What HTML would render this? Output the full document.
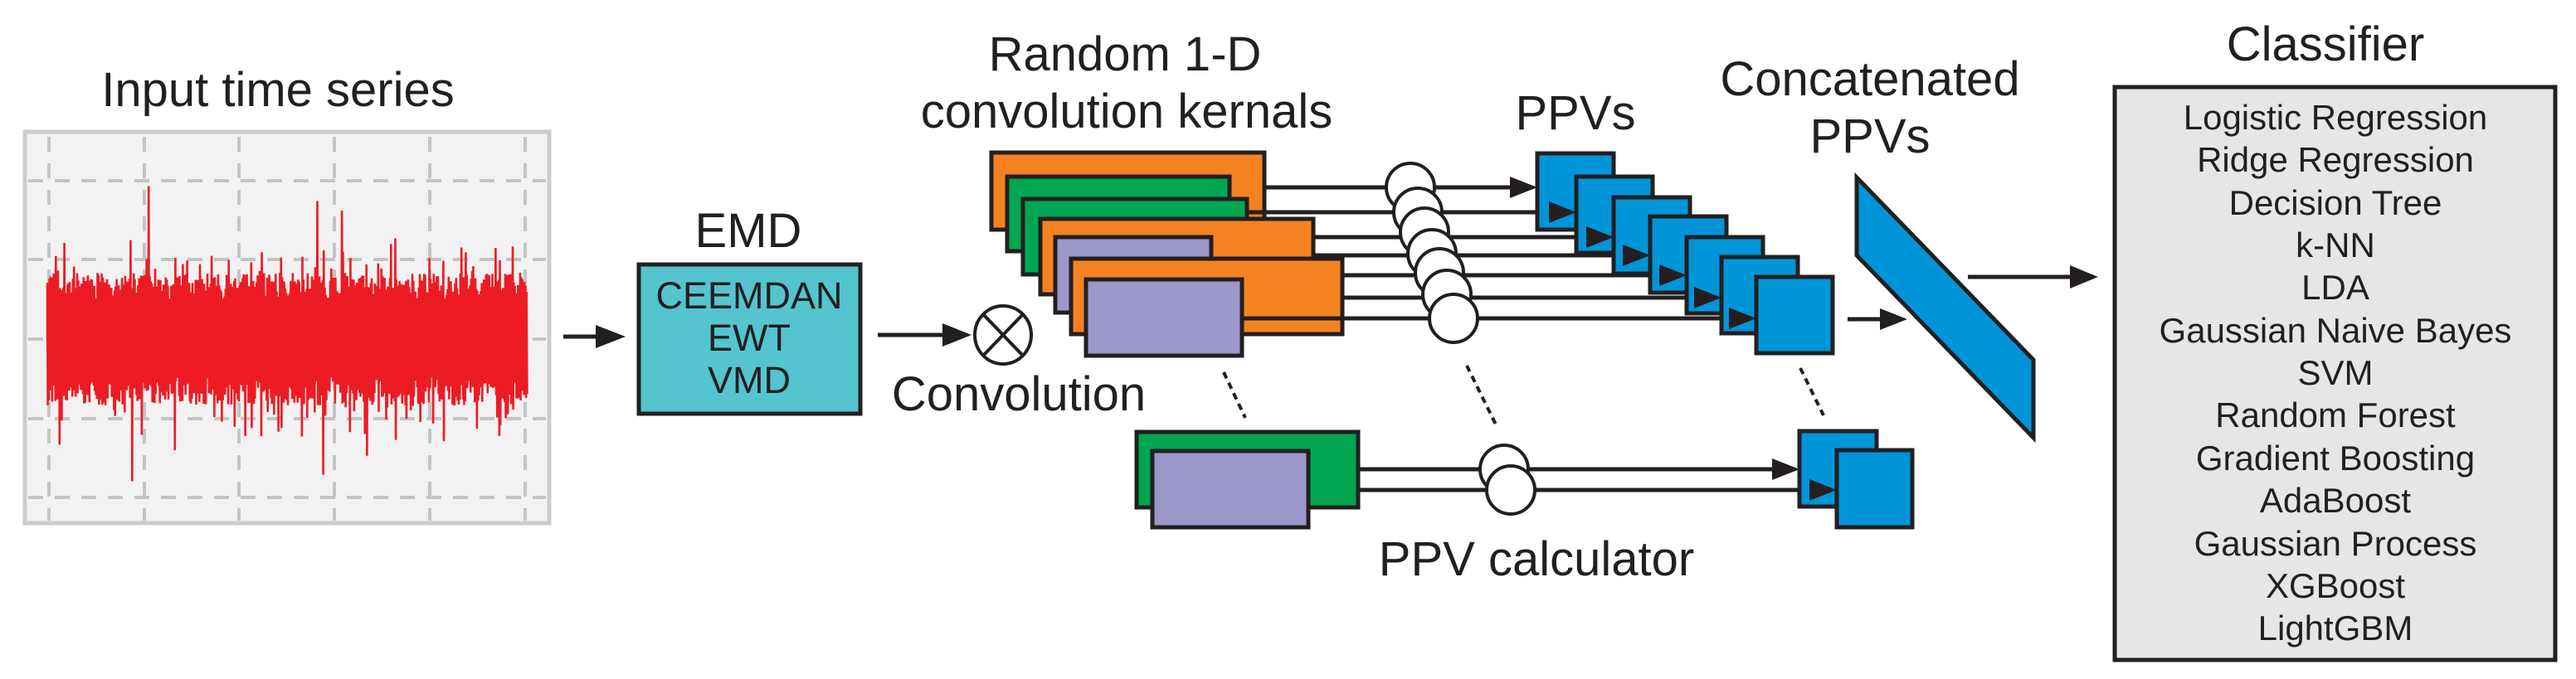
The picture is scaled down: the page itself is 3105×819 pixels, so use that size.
<!DOCTYPE html>
<html><head><meta charset="utf-8"><style>
html,body{margin:0;padding:0;background:#fff;}
svg{display:block;}
text{font-family:"Liberation Sans",Arial,sans-serif;fill:#231f20;}
</style></head><body>
<svg id="s" width="3105" height="819" viewBox="0 0 3105 819" xmlns="http://www.w3.org/2000/svg">
<!-- Input time series -->
<text x="335" y="128" font-size="58" text-anchor="middle">Input time series</text>
<rect x="30" y="159" width="632" height="472" fill="#f2f2f2" stroke="#cccccc" stroke-width="5"/>
<g stroke="#c4c4c4" stroke-width="4" stroke-dasharray="18,14">
<line x1="59" y1="165" x2="59" y2="628"/><line x1="174" y1="165" x2="174" y2="628"/>
<line x1="288" y1="165" x2="288" y2="628"/><line x1="403" y1="165" x2="403" y2="628"/>
<line x1="518" y1="165" x2="518" y2="628"/><line x1="633" y1="165" x2="633" y2="628"/>
<line x1="34" y1="218" x2="658" y2="218"/><line x1="34" y1="313" x2="658" y2="313"/>
<line x1="34" y1="409" x2="658" y2="409"/><line x1="34" y1="505" x2="658" y2="505"/>
<line x1="34" y1="600" x2="658" y2="600"/>
</g>
<path id="sig" fill="none" stroke="#ed1c24" stroke-width="2.6" d=""/>
<line x1="679" y1="406" x2="735" y2="406" stroke="#231f20" stroke-width="5"/>
<polygon points="754,406 718,392 718,420" fill="#231f20"/>
<text x="902" y="298" font-size="58" text-anchor="middle">EMD</text>
<rect x="770" y="319" width="267" height="180" fill="#54c4cf" stroke="#231f20" stroke-width="5"/>
<text x="903" y="372" font-size="45" text-anchor="middle">CEEMDAN</text>
<text x="903" y="423" font-size="45" text-anchor="middle">EWT</text>
<text x="903" y="474" font-size="45" text-anchor="middle">VMD</text>
<line x1="1058" y1="404" x2="1150" y2="404" stroke="#231f20" stroke-width="5"/>
<polygon points="1171,404 1136,390 1136,418" fill="#231f20"/>
<ellipse cx="1209" cy="404" rx="34" ry="35" fill="#fff" stroke="#231f20" stroke-width="4"/>
<line x1="1185" y1="379" x2="1233" y2="429" stroke="#231f20" stroke-width="4"/>
<line x1="1233" y1="379" x2="1185" y2="429" stroke="#231f20" stroke-width="4"/>
<text x="1228" y="495" font-size="58" text-anchor="middle">Convolution</text>
<text x="1356" y="85" font-size="58" text-anchor="middle">Random 1-D</text>
<text x="1358" y="154" font-size="58" text-anchor="middle">convolution kernals</text>
<g stroke="#231f20" stroke-width="5">
<rect x="1195" y="184" width="329" height="93" fill="#f58220"/>
<rect x="1214" y="213" width="268" height="90" fill="#00a651"/>
<rect x="1233" y="240" width="270" height="91" fill="#00a651"/>
<rect x="1254" y="264" width="329" height="91" fill="#f58220"/>
<rect x="1272" y="286" width="188" height="91" fill="#9b97c8"/>
<rect x="1291" y="312" width="327" height="91" fill="#f58220"/>
<rect x="1309" y="337" width="188" height="92" fill="#9b97c8"/>
</g>
<g id="lines" stroke="#231f20" stroke-width="5" fill="none"></g>
<g id="circs" fill="#fff" stroke="#231f20" stroke-width="4"></g>
<text x="1899" y="156" font-size="58" text-anchor="middle">PPVs</text>
<g id="sq" fill="#0095d9" stroke="#231f20" stroke-width="5"></g>
<g id="arr" fill="#231f20"></g>
<g stroke="#231f20" stroke-width="4" stroke-dasharray="8,6">
<line x1="1475" y1="449" x2="1501" y2="504"/>
<line x1="1768" y1="441" x2="1803" y2="512"/>
<line x1="2170" y1="444" x2="2198" y2="501"/>
</g>
<g stroke="#231f20" stroke-width="5">
<rect x="1370" y="521" width="267" height="91" fill="#00a651"/>
<rect x="1389" y="544" width="188" height="92" fill="#9b97c8"/>
</g>
<text x="1852" y="694" font-size="58" text-anchor="middle">PPV calculator</text>
<text x="2254" y="115" font-size="58" text-anchor="middle">Concatenated</text>
<text x="2254" y="184" font-size="58" text-anchor="middle">PPVs</text>
<line x1="2227" y1="385" x2="2282" y2="385" stroke="#231f20" stroke-width="5"/>
<polygon points="2299,385 2266,372 2266,398" fill="#231f20"/>
<polygon points="2238,214 2238,308 2451,528 2451,434" fill="#0095d9" stroke="#231f20" stroke-width="5"/>
<line x1="2372" y1="334" x2="2510" y2="334" stroke="#231f20" stroke-width="5"/>
<polygon points="2529,334 2495,320 2495,348" fill="#231f20"/>
<text x="2803" y="73" font-size="58" text-anchor="middle">Classifier</text>
<rect x="2549" y="105" width="531" height="691" fill="#e6e6e6" stroke="#231f20" stroke-width="5"/>
<g font-size="42" text-anchor="middle">
<text x="2815" y="156">Logistic Regression</text>
<text x="2815" y="207">Ridge Regression</text>
<text x="2815" y="259">Decision Tree</text>
<text x="2815" y="310">k-NN</text>
<text x="2815" y="361">LDA</text>
<text x="2815" y="413">Gaussian Naive Bayes</text>
<text x="2815" y="464">SVM</text>
<text x="2815" y="515">Random Forest</text>
<text x="2815" y="567">Gradient Boosting</text>
<text x="2815" y="618">AdaBoost</text>
<text x="2815" y="670">Gaussian Process</text>
<text x="2815" y="721">XGBoost</text>
<text x="2815" y="772">LightGBM</text>
</g>
</svg>
<script>
(function(){
var NS="http://www.w3.org/2000/svg";
function el(p,t,a){var e=document.createElementNS(NS,t);for(var k in a)e.setAttribute(k,a[k]);p.appendChild(e);return e;}
var seed=12345;function r(){seed=(seed*1103515245+12345)%2147483648;return seed/2147483648;}
var d="M57 409";var n=900;
for(var i=0;i<n;i++){var x=57+i*(579/n);var a=45+r()*35;if(r()<0.1)a+=r()*50;if(r()<0.025)a+=r()*110;
var s=(i%2?1:-1);d+=" L"+x.toFixed(1)+" "+(409+s*a).toFixed(1);}
document.getElementById("sig").setAttribute("d",d);
var L=document.getElementById("lines"),C=document.getElementById("circs"),S=document.getElementById("sq"),A=document.getElementById("arr");
var ys=[226,256,286,308,332,359,384],xs=[1524,1503,1583,1583,1618,1618,1497];
var cx=[1700,1709,1717,1726,1735,1744,1752],cy=[226,256,280,306,329,355,384];
var sq=[[1853,185],[1900,213],[1945,238],[1989,261],[2033,286],[2075,310],[2117,334]];
for(var i=0;i<7;i++){el(L,"line",{x1:xs[i],y1:ys[i],x2:sq[i][0]-10,y2:ys[i]});}
for(var i=0;i<7;i++){el(C,"ellipse",{cx:cx[i],cy:cy[i],rx:29,ry:29});}
el(L,"line",{x1:1637,y1:566,x2:2160,y2:566});el(L,"line",{x1:1577,y1:591,x2:2205,y2:591});
el(C,"ellipse",{cx:1813,cy:566,rx:29,ry:29});el(C,"ellipse",{cx:1821,cy:591,rx:29,ry:29});
for(var i=0;i<7;i++){el(S,"rect",{x:sq[i][0],y:sq[i][1],width:92,height:92});}
el(S,"rect",{x:2169,y:520,width:93,height:91});el(S,"rect",{x:2214,y:543,width:91,height:93});
var tips=[];for(var i=0;i<7;i++)tips.push([sq[i][0],ys[i]]);tips.push([2169,566]);tips.push([2214,591]);
tips.forEach(function(t){el(A,"polygon",{points:t[0]+","+t[1]+" "+(t[0]-33)+","+(t[1]-13)+" "+(t[0]-33)+","+(t[1]+13)});});
})();
</script>
</body></html>
